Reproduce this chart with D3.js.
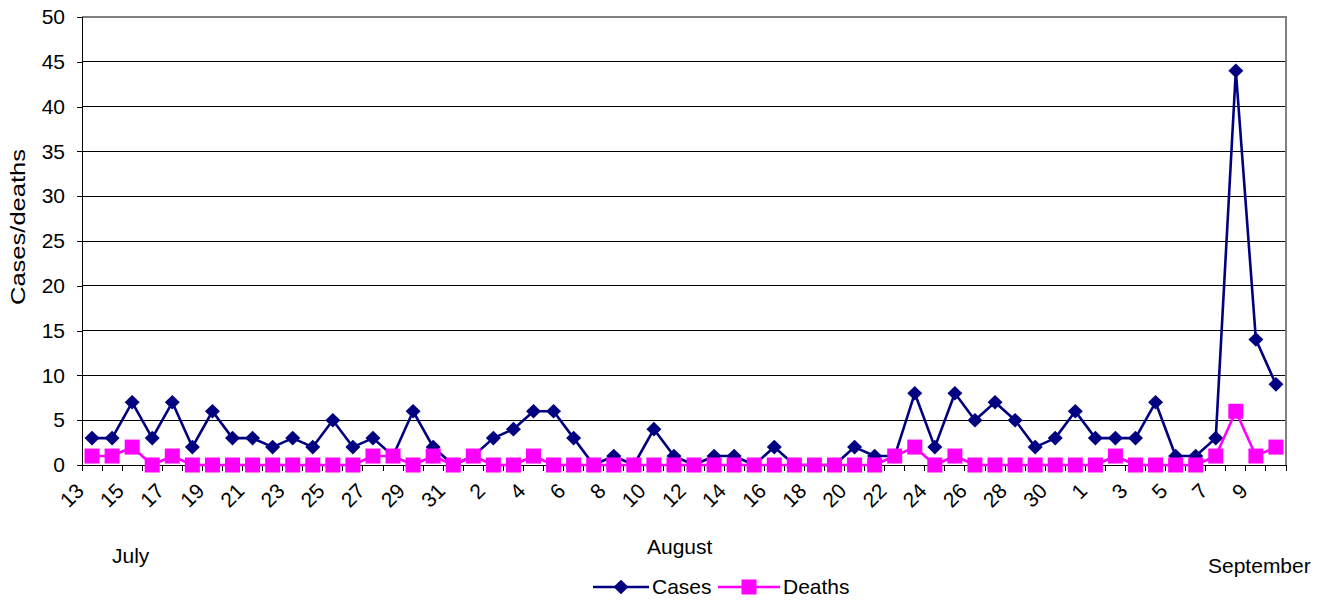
<!DOCTYPE html>
<html>
<head>
<meta charset="utf-8">
<script src="https://cdn.jsdelivr.net/npm/d3@7"></script>
<style>
  body { margin: 0; background: #fff; }
  svg { display: block; }
  text { font-family: Arial, "Liberation Sans", sans-serif; fill: #000; }
</style>
</head>
<body>
<svg id="chart" width="1332" height="603"></svg>
<script>
// Daily counts, 13 July – 10 September
const categories = [
  "13","14","15","16","17","18","19","20","21","22","23","24","25","26","27","28","29","30","31",
  "1","2","3","4","5","6","7","8","9","10","11","12","13","14","15","16","17","18","19","20","21","22","23","24","25","26","27","28","29","30","31",
  "1","2","3","4","5","6","7","8","9","10"
];
const cases = [
  3,3,7,3,7,2,6,3,3,2,3,2,5,2,3,1,6,2,0,
  1,3,4,6,6,3,0,1,0,4,1,0,1,1,0,2,0,0,0,2,1,1,8,2,8,5,7,5,2,3,6,
  3,3,3,7,1,1,3,44,14,9
];
const deaths = [
  1,1,2,0,1,0,0,0,0,0,0,0,0,0,1,1,0,1,0,
  1,0,0,1,0,0,0,0,0,0,0,0,0,0,0,0,0,0,0,0,0,1,2,0,1,0,0,0,0,0,0,
  0,1,0,0,0,0,1,6,1,2
];
const yTicks = [0,5,10,15,20,25,30,35,40,45,50];
const months = ["July","August","September"];
const seriesNames = ["Cases","Deaths"];
const yTitle = "Cases/deaths";

const svg = d3.select("#chart");
const W = 1332, H = 603;
const plot = { left: 82, right: 1286, top: 17, bottom: 465 };
const navy = "#000080", magenta = "#FF00FF";
const fs = 21;

svg.append("rect").attr("width", W).attr("height", H).attr("fill", "#fff");

const idx = d3.range(categories.length);
const x = d3.scaleBand().domain(idx).range([plot.left, plot.right]).paddingInner(0).paddingOuter(0);
const cx = i => x(i) + x.bandwidth() / 2;
const y = d3.scaleLinear().domain([0, 50]).range([plot.bottom, plot.top]);

// horizontal gridlines
svg.append("g")
  .selectAll("line")
  .data(yTicks.filter(t => t > 0 && t < 50))
  .join("line")
  .attr("x1", plot.left).attr("x2", plot.right)
  .attr("y1", d => y(d)).attr("y2", d => y(d))
  .attr("stroke", "#000").attr("stroke-width", 1)
  .attr("shape-rendering", "crispEdges");

// plot-area frame (top and right)
svg.append("path")
  .attr("d", `M${plot.left},${y(50)}H${plot.right}V${plot.bottom}`)
  .attr("fill", "none").attr("stroke", "#808080").attr("stroke-width", 2)
  .attr("shape-rendering", "crispEdges");

// y axis
const yAxis = d3.axisLeft(y).tickValues(yTicks).tickSize(5).tickPadding(12);
const gy = svg.append("g").attr("transform", `translate(${plot.left},0)`).call(yAxis);
gy.select(".domain").attr("stroke", "#000").attr("shape-rendering", "crispEdges");
gy.selectAll(".tick line").attr("stroke", "#000").attr("shape-rendering", "crispEdges");
gy.selectAll(".tick text").attr("font-size", fs).attr("font-family", "Arial, 'Liberation Sans', sans-serif").attr("fill", "#000");

// x axis: a tick at every category boundary, labels on every second day
const bounds = d3.range(categories.length + 1).map(i => plot.left + i * x.bandwidth());
const gx = svg.append("g");
gx.append("line")
  .attr("x1", plot.left).attr("x2", plot.right)
  .attr("y1", plot.bottom).attr("y2", plot.bottom)
  .attr("stroke", "#000").attr("shape-rendering", "crispEdges");
gx.selectAll("line.tk").data(bounds).join("line").attr("class", "tk")
  .attr("x1", d => d).attr("x2", d => d)
  .attr("y1", plot.bottom).attr("y2", plot.bottom + 6)
  .attr("stroke", "#000").attr("shape-rendering", "crispEdges");
gx.selectAll("text").data(idx.filter(i => i % 2 === 0)).join("text")
  .attr("transform", i => `translate(${cx(i) - 12},${plot.bottom + 22}) rotate(-45)`)
  .attr("text-anchor", "end")
  .attr("dy", "0.35em")
  .attr("font-size", fs)
  .text(i => categories[i]);

// y axis title
svg.append("text")
  .attr("transform", `translate(25,227) rotate(-90)`)
  .attr("text-anchor", "middle")
  .attr("font-size", 20)
  .attr("textLength", 156)
  .attr("lengthAdjust", "spacingAndGlyphs")
  .text(yTitle);

// month captions
const monthPos = [[112, 563], [647, 554], [1208, 573]];
svg.selectAll("text.month").data(months).join("text").attr("class", "month")
  .attr("x", (d, i) => monthPos[i][0]).attr("y", (d, i) => monthPos[i][1])
  .attr("font-size", fs)
  .text(d => d);

// series
const diamond = "M0,-7.3L7.5,0L0,7.3L-7.5,0Z";
const squareHalf = 7.5;
const line = d3.line().x((d, i) => cx(i)).y(d => y(d));

svg.append("path").datum(cases)
  .attr("d", line).attr("fill", "none")
  .attr("stroke", navy).attr("stroke-width", 2.6).attr("stroke-linejoin", "round");
svg.append("g").selectAll("path").data(cases).join("path")
  .attr("d", diamond)
  .attr("transform", (d, i) => `translate(${cx(i)},${y(d)})`)
  .attr("fill", navy);

svg.append("path").datum(deaths)
  .attr("d", line).attr("fill", "none")
  .attr("stroke", magenta).attr("stroke-width", 2.6).attr("stroke-linejoin", "round");
svg.append("g").selectAll("rect").data(deaths).join("rect")
  .attr("x", (d, i) => cx(i) - squareHalf).attr("y", d => y(d) - squareHalf)
  .attr("width", squareHalf * 2).attr("height", squareHalf * 2)
  .attr("fill", magenta);

// legend
const legend = svg.append("g");
const legY = 587;
const items = [
  { name: seriesNames[0], color: navy, x0: 593, x1: 649, mk: "diamond" },
  { name: seriesNames[1], color: magenta, x0: 718, x1: 780, mk: "square" }
];
items.forEach(it => {
  const mid = (it.x0 + it.x1) / 2;
  legend.append("line")
    .attr("x1", it.x0).attr("x2", it.x1).attr("y1", legY).attr("y2", legY)
    .attr("stroke", it.color).attr("stroke-width", 2.6);
  if (it.mk === "diamond") {
    legend.append("path").attr("d", diamond)
      .attr("transform", `translate(${mid},${legY})`).attr("fill", it.color);
  } else {
    legend.append("rect")
      .attr("x", mid - squareHalf).attr("y", legY - squareHalf)
      .attr("width", squareHalf * 2).attr("height", squareHalf * 2)
      .attr("fill", it.color);
  }
  legend.append("text")
    .attr("x", it.x1 + 3).attr("y", legY).attr("dy", "0.35em")
    .attr("font-size", fs)
    .text(it.name);
});
</script>
</body>
</html>
